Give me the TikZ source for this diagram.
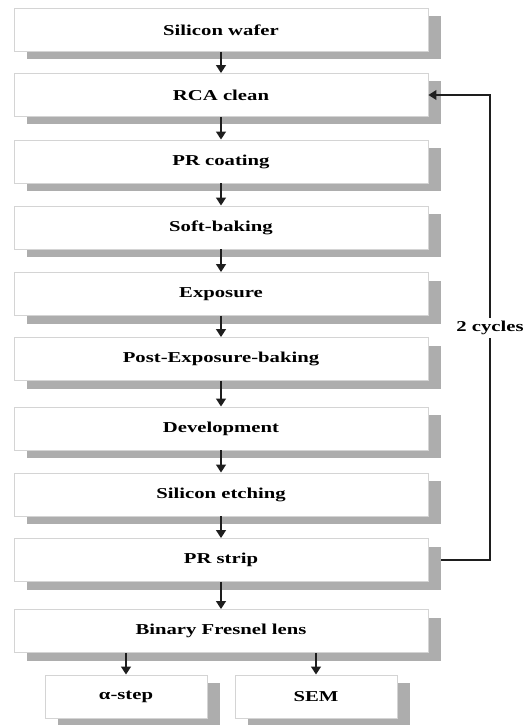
\documentclass[tikz,border=0pt]{standalone}
\usepackage{fontspec}
\usetikzlibrary{arrows.meta,shadows}
\newfontfamily\cajafont[FakeStretch=1.37]{Liberation Serif Bold}
\definecolor{borde}{HTML}{D4D4D4}
\definecolor{sombra}{HTML}{ADADAD}
\definecolor{linea}{HTML}{1E1E1E}
\begin{document}
\begin{tikzpicture}[font=\cajafont\fontsize{8.6}{10}\selectfont,
  paso/.style={draw=borde, line width=0.5pt, fill=white, minimum height=0.86cm, inner sep=0pt,
    drop shadow={shadow xshift=0.26cm, shadow yshift=-0.16cm, fill=sombra, opacity=1}},
  flecha/.style={-{Triangle[length=4.5pt,width=5.5pt]}, line width=1pt, linea}]
\useasboundingbox (0,0) rectangle (10.56,-14.5);
\foreach \n/\y/\t in {wafer/0.6/Silicon wafer, rca/1.9/RCA clean, coat/3.23/PR coating, soft/4.55/Soft-baking, expo/5.88/Exposure, peb/7.18/Post-Exposure-baking, dev/8.57/Development, etch/9.89/Silicon etching, strip/11.2/PR strip, lens/12.62/Binary Fresnel lens}
  \node[paso, minimum width=8.28cm] (\n) at (4.42,-\y) {\t};
\node[paso, minimum width=3.24cm] (alfa) at (2.52,-13.93) {α-step};
\node[paso, minimum width=3.24cm] (sem) at (6.32,-13.93) {SEM};
\foreach \a/\b in {wafer/rca, rca/coat, coat/soft, soft/expo, expo/peb, peb/dev, dev/etch, etch/strip, strip/lens}
  \draw[flecha] (\a) -- (\b);
\draw[flecha] (lens.south -| alfa) -- (alfa);
\draw[flecha] (lens.south -| sem) -- (sem);
\coordinate (salida) at ([xshift=0.26cm]strip.east);
\coordinate (vuelta) at (9.8,-6.56);
\draw[flecha, line width=0.75pt] (salida) -- (salida -| vuelta) -- (vuelta |- rca.east) -- (rca.east);
\node[fill=white, inner sep=1.5pt] (ciclos) at (vuelta) {2 cycles};
\end{tikzpicture}
\end{document}
